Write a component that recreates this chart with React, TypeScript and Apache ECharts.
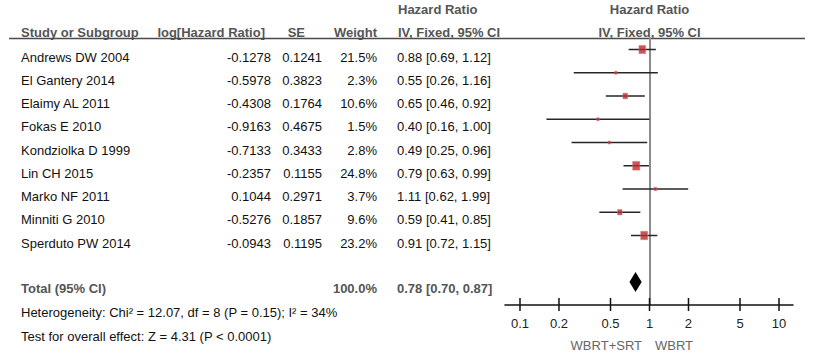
import React, { useEffect, useRef } from "react";
import * as echarts from "echarts";

// ---------- data ----------
const studies = [
  "Andrews DW 2004",
  "El Gantery 2014",
  "Elaimy AL 2011",
  "Fokas E 2010",
  "Kondziolka D 1999",
  "Lin CH 2015",
  "Marko NF 2011",
  "Minniti G 2010",
  "Sperduto PW 2014",
];
const logHR = [-0.1278, -0.5978, -0.4308, -0.9163, -0.7133, -0.2357, 0.1044, -0.5276, -0.0943];
const seValues = [0.1241, 0.3823, 0.1764, 0.4675, 0.3433, 0.1155, 0.2971, 0.1857, 0.1195];
const weights = [21.5, 2.3, 10.6, 1.5, 2.8, 24.8, 3.7, 9.6, 23.2];
const hrEst = [0.88, 0.55, 0.65, 0.4, 0.49, 0.79, 1.11, 0.59, 0.91];
const hrLow = [0.69, 0.26, 0.46, 0.16, 0.25, 0.63, 0.62, 0.41, 0.72];
const hrHigh = [1.12, 1.16, 0.92, 1.0, 0.96, 0.99, 1.99, 0.85, 1.15];
const totalHR = [0.78, 0.7, 0.87]; // estimate, low, high
const totalWeight = 100.0;
const tickValues = [0.1, 0.2, 0.5, 1, 2, 5, 10];
const tickLabels = ["0.1", "0.2", "0.5", "1", "2", "5", "10"];
const heterogeneityText = "Heterogeneity: Chi² = 12.07, df = 8 (P = 0.15); I² = 34%";
const overallText = "Test for overall effect: Z = 4.31 (P < 0.0001)";
const favoursLeft = "WBRT+SRT";
const favoursRight = "WBRT";

// ---------- layout ----------
const FONT = "'Liberation Sans', Arial, Helvetica, sans-serif";
const MARK_TOP = 49.5;
const ROW_H = 23.25;
const TEXT_OFF = 7.5;
const GRID_TOP = 38;
const GRID_BOTTOM_Y = 305;
const TOTAL_ROW = 10;
const Y_MIN = (GRID_TOP - MARK_TOP) / ROW_H;
const Y_MAX = (GRID_BOTTOM_Y - MARK_TOP) / ROW_H;
const X_MIN = -1.1158;
const X_MAX = 1.1081;
const HEAD_GREY = "#555";

const rowTextY = (i: number) => MARK_TOP + ROW_H * i + TEXT_OFF;

function txt(
  text: string,
  x: number,
  y: number,
  align: string,
  opts: { bold?: boolean; color?: string } = {}
) {
  return {
    type: "text",
    x,
    y,
    silent: true,
    style: {
      text,
      fill: opts.color || "#111",
      fontSize: 13,
      fontFamily: FONT,
      fontWeight: opts.bold ? "bold" : "normal",
      align,
      verticalAlign: "middle",
      textAlign: align,
      textVerticalAlign: "middle",
    },
  };
}

export default function App() {
  const ref = useRef<HTMLDivElement>(null);

  useEffect(() => {
    document.body.style.margin = "0";
    if (!ref.current) return;
    const chart = echarts.init(ref.current, undefined, { renderer: "svg" });

    const graphics: any[] = [];
    // header
    graphics.push(txt("Hazard Ratio", 398, 9, "left", { bold: true, color: HEAD_GREY }));
    graphics.push(txt("Hazard Ratio", 649.5, 9, "center", { bold: true, color: HEAD_GREY }));
    graphics.push(txt("Study or Subgroup", 21, 32, "left", { bold: true, color: HEAD_GREY }));
    graphics.push(txt("log[Hazard Ratio]", 265, 32, "right", { bold: true, color: HEAD_GREY }));
    graphics.push(txt("SE", 305, 32, "right", { bold: true, color: HEAD_GREY }));
    graphics.push(txt("Weight", 377, 32, "right", { bold: true, color: HEAD_GREY }));
    graphics.push(txt("IV, Fixed, 95% CI", 398, 32, "left", { bold: true, color: HEAD_GREY }));
    graphics.push(txt("IV, Fixed, 95% CI", 649.5, 32, "center", { bold: true, color: HEAD_GREY }));
    graphics.push({
      type: "line",
      silent: true,
      shape: { x1: 9, y1: 38.5, x2: 805, y2: 38.5 },
      style: { stroke: "#4a4a4a", lineWidth: 1.5 },
    });
    // rows
    studies.forEach((s, i) => {
      const y = rowTextY(i);
      graphics.push(txt(s, 21, y, "left"));
      graphics.push(txt(logHR[i].toFixed(4), 271, y, "right"));
      graphics.push(txt(seValues[i].toFixed(4), 322, y, "right"));
      graphics.push(txt(weights[i].toFixed(1) + "%", 377, y, "right"));
      graphics.push(
        txt(
          `${hrEst[i].toFixed(2)} [${hrLow[i].toFixed(2)}, ${hrHigh[i].toFixed(2)}]`,
          397,
          y,
          "left"
        )
      );
    });
    // total
    graphics.push(txt("Total (95% CI)", 21, 288, "left", { bold: true, color: HEAD_GREY }));
    graphics.push(txt(totalWeight.toFixed(1) + "%", 377, 288, "right", { bold: true, color: HEAD_GREY }));
    graphics.push(
      txt(
        `${totalHR[0].toFixed(2)} [${totalHR[1].toFixed(2)}, ${totalHR[2].toFixed(2)}]`,
        397,
        288,
        "left",
        { bold: true, color: HEAD_GREY }
      )
    );
    graphics.push(txt(heterogeneityText, 21, 312, "left"));
    graphics.push(txt(overallText, 21, 336, "left"));
    graphics.push(txt(favoursLeft, 642, 345, "right", { color: "#666" }));
    graphics.push(txt(favoursRight, 655, 345, "left", { color: "#666" }));

    const ciData = studies.map((_, i) => [Math.log10(hrLow[i]), Math.log10(hrHigh[i]), i]);
    const squareData = studies.map((_, i) => ({
      value: [Math.log10(hrEst[i]), i],
      symbolSize: [
        Math.max(2.5, 1.45 * Math.sqrt(weights[i])),
        Math.max(3, 1.75 * Math.sqrt(weights[i])),
      ],
    }));
    const diamondData = [
      [Math.log10(totalHR[0]), Math.log10(totalHR[1]), Math.log10(totalHR[2]), TOTAL_ROW],
    ];
    const tickData = tickValues.map((v) => [Math.log10(v), Y_MAX]);

    chart.setOption({
      animation: false,
      grid: { left: 505, right: 27, top: GRID_TOP, bottom: 355 - GRID_BOTTOM_Y, containLabel: false },
      xAxis: {
        type: "value",
        min: X_MIN,
        max: X_MAX,
        splitLine: { show: false },
        axisLine: { show: true, onZero: false, lineStyle: { color: "#111", width: 1.5 } },
        axisTick: { show: false },
        axisLabel: {
          show: true,
          customValues: tickValues.map((v) => Math.log10(v)),
          margin: 12,
          color: "#222",
          fontSize: 13,
          fontFamily: FONT,
          formatter: (v: number) => {
            let best = 0;
            tickValues.forEach((t, k) => {
              if (Math.abs(Math.log10(t) - v) < Math.abs(Math.log10(tickValues[best]) - v)) best = k;
            });
            return tickLabels[best];
          },
        },
      },
      yAxis: {
        type: "value",
        inverse: true,
        min: Y_MIN,
        max: Y_MAX,
        splitLine: { show: false },
        axisLine: { show: true, onZero: true, lineStyle: { color: "#8c8c8c", width: 2 } },
        axisTick: { show: false },
        axisLabel: { show: false },
      },
      graphic: graphics,
      series: [
        {
          type: "custom",
          clip: false,
          data: ciData,
          renderItem: (_p: any, api: any) => {
            const a = api.coord([api.value(0), api.value(2)]);
            const b = api.coord([api.value(1), api.value(2)]);
            return {
              type: "line",
              shape: { x1: a[0], y1: a[1], x2: b[0], y2: b[1] },
              style: { stroke: "#262626", lineWidth: 1.5 },
            };
          },
        },
        {
          type: "scatter",
          symbol: "rect",
          data: squareData,
          itemStyle: { color: "#BB2A2E", borderColor: "#D9797C", borderWidth: 0.6 },
          z: 5,
        },
        {
          type: "custom",
          clip: false,
          data: diamondData,
          renderItem: (_p: any, api: any) => {
            const c = api.coord([api.value(0), api.value(3)]);
            const l = api.coord([api.value(1), api.value(3)]);
            const r = api.coord([api.value(2), api.value(3)]);
            const h = 10;
            return {
              type: "polygon",
              shape: {
                points: [
                  [l[0], c[1]],
                  [c[0], c[1] - h],
                  [r[0], c[1]],
                  [c[0], c[1] + h],
                ],
              },
              style: { fill: "#000" },
            };
          },
        },
        {
          type: "custom",
          clip: false,
          data: tickData,
          renderItem: (_p: any, api: any) => {
            const p = api.coord([api.value(0), api.value(1)]);
            return {
              type: "line",
              shape: { x1: p[0], y1: p[1] - 7, x2: p[0], y2: p[1] + 6 },
              style: { stroke: "#111", lineWidth: 1.5 },
            };
          },
        },
      ],
    });

    return () => chart.dispose();
  }, []);

  return <div ref={ref} style={{ width: 820, height: 355 }} />;
}
